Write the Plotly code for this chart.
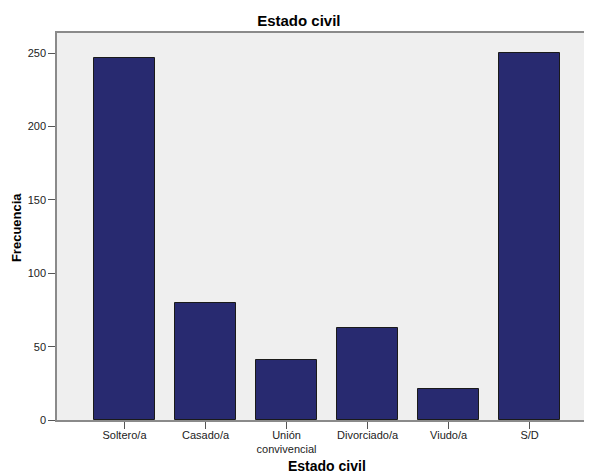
import plotly.graph_objects as go

categories = ["Soltero/a", "Casado/a", "Unión<br>convivencial", "Divorciado/a", "Viudo/a", "S/D"]
frecuencia = [247, 80, 41, 63, 21, 250]
y_ticks = [0, 50, 100, 150, 200, 250]

fig = go.Figure()
fig.add_trace(go.Bar(
    x=list(range(len(categories))),
    y=frecuencia,
    width=0.753,
    marker=dict(color="#282A70", line=dict(color="#1a1a1a", width=1)),
))

# the page body adds an 8px margin, so the figure is 8px smaller than the window
fig.update_layout(
    width=584, height=466,
    margin=dict(l=49, r=0, t=25, b=54),
    paper_bgcolor="white",
    plot_bgcolor="#EFEFEF",
    font=dict(family="Liberation Sans, Arial, sans-serif", size=11, color="#222"),
    showlegend=False,
    bargap=0,
    title=dict(text="<b>Estado civil</b>", x=0.498, xanchor="center", y=0.972, yanchor="middle",
               font=dict(size=15, color="#000")),
    xaxis=dict(
        tickmode="array",
        tickvals=list(range(len(categories))),
        ticktext=categories,
        range=[-0.833, 5.77],
        automargin=False,
        showline=True, linecolor="#8a8a8a", linewidth=1.5, mirror=True,
        ticks="outside", ticklen=7, tickcolor="#555", tickwidth=1,
        ticklabelstandoff=-3,
        showgrid=False, zeroline=False,
        tickfont=dict(size=11, color="#222"),
    ),
    yaxis=dict(
        range=[0, 263.8],
        tickmode="array",
        tickvals=y_ticks,
        automargin=False,
        showline=True, linecolor="#8a8a8a", linewidth=1.5,
        ticks="outside", ticklen=7, tickcolor="#555", tickwidth=1,
        showgrid=False, zeroline=False,
        tickfont=dict(size=11, color="#222"),
    ),
    annotations=[
        dict(text="<b>Estado civil</b>", xref="paper", yref="paper", x=0.505, y=-0.119,
             xanchor="center", yanchor="middle", showarrow=False,
             font=dict(size=14, color="#000")),
        dict(text="<b>Frecuencia</b>", xref="paper", yref="paper", x=-0.0766, y=0.496,
             xanchor="center", yanchor="middle", showarrow=False, textangle=-90,
             font=dict(size=13, color="#000")),
    ],
)

fig.write_html("out.html")
